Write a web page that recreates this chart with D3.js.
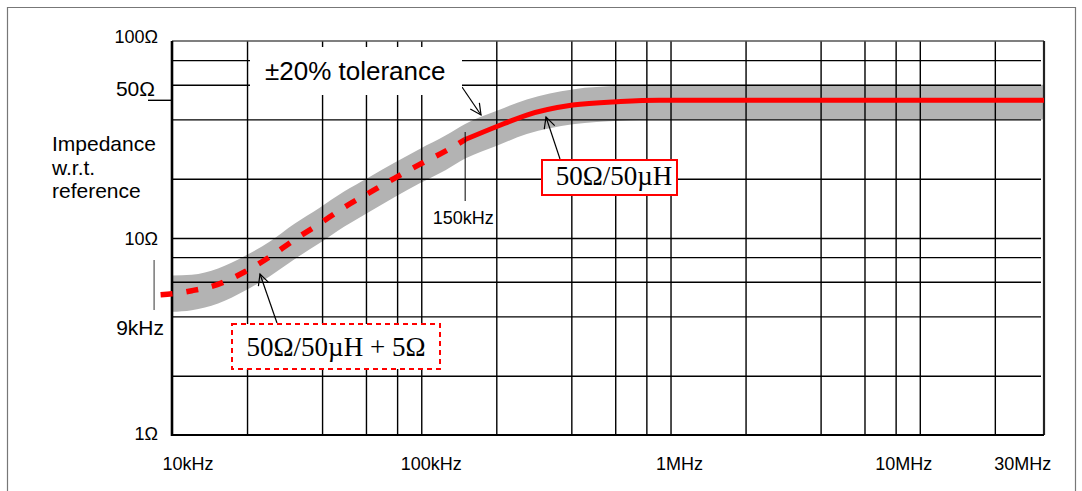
<!DOCTYPE html>
<html>
<head>
<meta charset="utf-8">
<script src="https://cdnjs.cloudflare.com/ajax/libs/d3/7.8.5/d3.min.js"></script>
<style>
  body { margin: 0; background: #fff; }
  svg { display: block; }
  text { font-family: "Liberation Sans", Arial, sans-serif; fill: #000; }
  .serif { font-family: "Liberation Serif", "Times New Roman", serif; }
</style>
</head>
<body>
<div id="chart"></div>
<script>
// nominal impedance curve, frequency in Hz, impedance in ohm
const curveFreq = [9e3, 10e3, 12e3, 15.3e3, 19.6e3, 24.7e3, 31e3, 39e3, 49e3, 62e3, 78e3, 99e3, 125e3, 150e3, 201e3, 265e3, 405e3, 630e3, 900e3, 31.5e6];
const curveOhm = [5.15, 5.21, 5.4, 5.82, 6.74, 8.03, 9.8, 11.8, 14.3, 17.0, 20.1, 23.7, 27.6, 31.6, 36.8, 42.1, 47.3, 49.3, 50, 50];

// tolerance band edges
const bandFreq = [10e3, 12e3, 15.3e3, 19.6e3, 24.7e3, 31e3, 39e3, 49e3, 62e3, 78e3, 99e3, 125e3, 150e3, 201e3, 265e3, 405e3, 630e3, 900e3, 31.5e6];
const bandUpper = [6.45, 6.5, 7.0, 8.1, 9.6, 11.8, 14.2, 17.2, 20.4, 24.1, 28.4, 33.1, 37.9, 44.2, 50.5, 56.8, 59.2, 60, 60];
const bandLower = [4.22, 4.3, 4.65, 5.4, 6.4, 7.8, 9.4, 11.4, 13.6, 16.1, 19.0, 22.1, 25.3, 29.4, 33.7, 37.8, 39.4, 40, 40];

const solidFrom = 150e3; // dashed below this frequency

// grid and tick labels
const xGridFreq = [2e4, 4e4, 6e4, 8e4, 1e5, 2e5, 4e5, 6e5, 8e5, 1e6, 2e6, 4e6, 6e6, 8e6, 1e7, 2e7];
const yGridOhm = [2, 4, 6, 8, 10, 20, 40, 60, 80];
const xTickFreq = [1e4, 1e5, 1e6, 1e7, 3e7];
const xTickText = ['10kHz', '100kHz', '1MHz', '10MHz', '30MHz'];
const yTickOhm = [100, 50, 10, 1];
const yTickText = ['100Ω', '50Ω', '10Ω', '1Ω'];

const chartWidth = 1082;
const chartHeight = 491;
const plotLeft = 172, plotRight = 1044, plotTop = 41, plotBottom = 435;

const svg = d3.select('#chart').append('svg')
  .attr('width', chartWidth)
  .attr('height', chartHeight);

svg.append('rect').attr('width', chartWidth).attr('height', chartHeight).attr('fill', '#fff');

// outer frame
svg.append('path')
  .attr('d', 'M7.5,491 V7.5 H1075.5 V491')
  .attr('fill', 'none')
  .attr('stroke', '#777')
  .attr('stroke-width', 1.2);

const x = d3.scaleLog().domain([1e4, 3.15e7]).range([plotLeft, plotRight]);
const y = d3.scaleLog().domain([1, 100]).range([plotBottom, plotTop]);

// tolerance band
const band = bandFreq.map((f, i) => ({f: f, hi: bandUpper[i], lo: bandLower[i]}));
svg.append('path')
  .datum(band)
  .attr('fill', '#b3b3b3')
  .attr('d', d3.area()
    .x((d) => x(d.f))
    .y0((d) => y(d.lo))
    .y1((d) => y(d.hi))
    .curve(d3.curveMonotoneX));

// grid
const grid = svg.append('g').attr('class', 'c-grid');
grid.append('g')
  .attr('transform', 'translate(0,' + plotBottom + ')')
  .call(d3.axisBottom(x).tickValues(xGridFreq).tickSize(-(plotBottom - plotTop)).tickFormat(''))
  .call((g) => g.select('.domain').remove());
grid.append('g')
  .attr('transform', 'translate(' + plotLeft + ',0)')
  .call(d3.axisLeft(y).tickValues(yGridOhm).tickSize(-(plotRight - plotLeft - 3)).tickFormat(''))
  .call((g) => g.select('.domain').remove());
grid.selectAll('line').attr('stroke', '#000').attr('stroke-width', 1.4);

// plot border
svg.append('line').attr('x1', plotLeft).attr('x2', plotRight).attr('y1', plotTop).attr('y2', plotTop)
  .attr('stroke', '#555').attr('stroke-width', 1.6);
svg.append('line').attr('x1', plotRight).attr('x2', plotRight).attr('y1', plotTop).attr('y2', plotBottom)
  .attr('stroke', '#222').attr('stroke-width', 2.2);
svg.append('line').attr('x1', plotLeft).attr('x2', plotLeft).attr('y1', plotTop).attr('y2', plotBottom + 1)
  .attr('stroke', '#000').attr('stroke-width', 2.6);
svg.append('line').attr('x1', plotLeft).attr('x2', plotRight).attr('y1', plotBottom).attr('y2', plotBottom)
  .attr('stroke', '#000').attr('stroke-width', 2.2);

// 50 ohm tick sticking out to the left
svg.append('line').attr('x1', 148).attr('x2', plotLeft).attr('y1', y(50)).attr('y2', y(50))
  .attr('stroke', '#000').attr('stroke-width', 1.4);

// nominal curve
const points = curveFreq.map((f, i) => ({f: f, z: curveOhm[i]}));
const line = d3.line().x((d) => x(d.f)).y((d) => y(d.z)).curve(d3.curveMonotoneX);
svg.append('path')
  .datum(points.filter((d) => d.f <= solidFrom))
  .attr('fill', 'none')
  .attr('stroke', '#ff0000')
  .attr('stroke-width', 5.5)
  .attr('stroke-dasharray', '12,14')
  .attr('d', line);
svg.append('path')
  .datum(points.filter((d) => d.f >= solidFrom))
  .attr('fill', 'none')
  .attr('stroke', '#ff0000')
  .attr('stroke-width', 5)
  .attr('d', line);

// 9 kHz and 150 kHz markers
svg.append('line').attr('x1', x(9e3) - 6.5).attr('x2', x(9e3) - 6.5).attr('y1', 260).attr('y2', 310)
  .attr('stroke', '#555').attr('stroke-width', 1.2);
svg.append('line').attr('x1', x(150e3)).attr('x2', x(150e3)).attr('y1', 132).attr('y2', 201)
  .attr('stroke', '#000').attr('stroke-width', 1);
svg.append('text').attr('x', x(150e3) - 2).attr('y', 224)
  .attr('text-anchor', 'middle').attr('font-size', 18).text('150kHz');

// axis labels
const xNudge = [16, 10, 9, -16, -16];
svg.append('g').selectAll('text')
  .data(xTickFreq)
  .enter()
  .append('text')
  .attr('x', (d, i) => x(d) + xNudge[i])
  .attr('y', 470)
  .attr('text-anchor', 'middle')
  .attr('font-size', 18)
  .text((d, i) => xTickText[i]);

const yNudge = [2, -4, 7, 5];
const yLabelSize = [18, 21, 18, 18];
const yLabelEnd = [158, 155, 158, 158];
svg.append('g').selectAll('text')
  .data(yTickOhm)
  .enter()
  .append('text')
  .attr('x', (d, i) => yLabelEnd[i])
  .attr('y', (d, i) => y(d) + yNudge[i])
  .attr('text-anchor', 'end')
  .attr('font-size', (d, i) => yLabelSize[i])
  .text((d, i) => yTickText[i]);

svg.append('text').attr('x', 164).attr('y', 335).attr('text-anchor', 'end')
  .attr('font-size', 21).text('9kHz');

const title = svg.append('text').attr('font-size', 21);
['Impedance', 'w.r.t.', 'reference'].forEach((t, i) => {
  title.append('tspan').attr('x', 52).attr('y', 151 + i * 23.5).text(t);
});

// arrow heads
svg.append('defs').append('marker')
  .attr('id', 'arrow')
  .attr('markerUnits', 'userSpaceOnUse')
  .attr('viewBox', '-12 -7 14 14')
  .attr('markerWidth', 14)
  .attr('markerHeight', 14)
  .attr('orient', 'auto')
  .append('path')
  .attr('d', 'M-11,-5.5 L0,0 L-11,5.5')
  .attr('fill', 'none')
  .attr('stroke', '#000')
  .attr('stroke-width', 1.2);

const arrows = [[462, 87, 481, 115], [560, 159, 546, 117], [277, 323, 260, 274]];
svg.append('g').selectAll('line')
  .data(arrows)
  .enter()
  .append('line')
  .attr('x1', (d) => d[0]).attr('y1', (d) => d[1])
  .attr('x2', (d) => d[2]).attr('y2', (d) => d[3])
  .attr('stroke', '#000')
  .attr('stroke-width', 1.2)
  .attr('marker-end', 'url(#arrow)');

// tolerance label (white box over the grid)
svg.append('rect').attr('x', 250).attr('y', 47).attr('width', 212).attr('height', 48).attr('fill', '#fff');
svg.append('text').attr('x', 265).attr('y', 80).attr('font-size', 26).text('±20% tolerance');

// 50 ohm / 50 uH label
svg.append('rect').attr('x', 542).attr('y', 160).attr('width', 135).attr('height', 35)
  .attr('fill', '#fff').attr('stroke', '#ff0000').attr('stroke-width', 2);
svg.append('text').attr('class', 'serif').attr('x', 614).attr('y', 185)
  .attr('text-anchor', 'middle').attr('font-size', 27).text('50Ω/50µH');

// 50 ohm / 50 uH + 5 ohm label
svg.append('rect').attr('x', 232).attr('y', 324).attr('width', 208).attr('height', 45)
  .attr('fill', '#fff').attr('stroke', '#ff0000').attr('stroke-width', 2).attr('stroke-dasharray', '5,4');
svg.append('text').attr('class', 'serif').attr('x', 336).attr('y', 356)
  .attr('text-anchor', 'middle').attr('font-size', 27).text('50Ω/50µH + 5Ω');
</script>
</body>
</html>
